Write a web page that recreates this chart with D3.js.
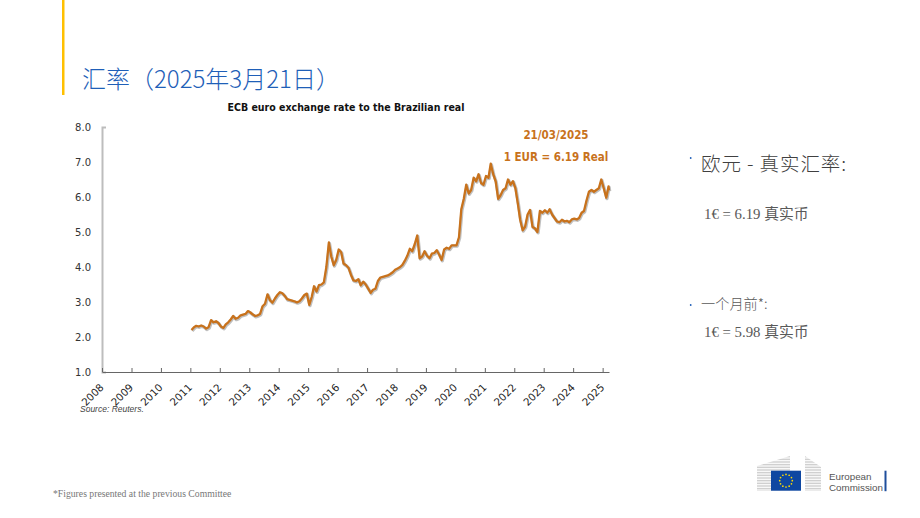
<!DOCTYPE html>
<html>
<head>
<meta charset="utf-8">
<script src="https://d3js.org/d3.v7.min.js"></script>
<style>
  html, body { margin: 0; padding: 0; background: #fff; }
  svg { display: block; }
</style>
</head>
<body>
<script>
'use strict';

// axis ticks
const yearTicks = [2008, 2009, 2010, 2011, 2012, 2013, 2014, 2015, 2016,
                   2017, 2018, 2019, 2020, 2021, 2022, 2023, 2024, 2025];
const rateTicks = [1, 2, 3, 4, 5, 6, 7, 8];

// EUR/BRL, one value per month, Jan..Dec
const rateYears = [2011, 2012, 2013, 2014, 2015, 2016, 2017, 2018,
                   2019, 2020, 2021, 2022, 2023, 2024, 2025];
const rate2011 = [2.20, 2.28, 2.32, 2.30, 2.33, 2.30, 2.24, 2.28, 2.48, 2.42, 2.45, 2.40];
const rate2012 = [2.30, 2.26, 2.36, 2.42, 2.50, 2.60, 2.52, 2.55, 2.62, 2.64, 2.66, 2.74];
const rate2013 = [2.70, 2.64, 2.60, 2.62, 2.66, 2.88, 2.95, 3.22, 3.05, 2.98, 3.10, 3.20];
const rate2014 = [3.28, 3.25, 3.18, 3.08, 3.06, 3.04, 3.02, 2.99, 3.02, 3.10, 3.20, 3.24];
const rate2015 = [2.92, 3.15, 3.45, 3.30, 3.48, 3.50, 3.56, 4.00, 4.70, 4.30, 4.05, 4.20];
const rate2016 = [4.50, 4.42, 4.10, 4.05, 3.98, 3.78, 3.62, 3.60, 3.65, 3.48, 3.58, 3.50];
const rate2017 = [3.38, 3.26, 3.35, 3.38, 3.60, 3.70, 3.72, 3.74, 3.76, 3.80, 3.85, 3.92];
const rate2018 = [3.96, 4.00, 4.06, 4.18, 4.32, 4.52, 4.45, 4.65, 4.90, 4.25, 4.30, 4.45];
const rate2019 = [4.32, 4.25, 4.38, 4.40, 4.48, 4.35, 4.20, 4.50, 4.55, 4.52, 4.62, 4.62];
const rate2020 = [4.62, 4.85, 5.65, 5.95, 6.35, 6.10, 6.20, 6.55, 6.45, 6.65, 6.40, 6.35];
const rate2021 = [6.60, 6.55, 6.95, 6.65, 6.45, 5.95, 6.05, 6.20, 6.25, 6.50, 6.35, 6.45];
const rate2022 = [6.25, 5.80, 5.35, 5.05, 5.15, 5.50, 5.63, 5.15, 5.10, 5.00, 5.60, 5.55];
const rate2023 = [5.62, 5.55, 5.65, 5.50, 5.40, 5.30, 5.28, 5.35, 5.30, 5.32, 5.28, 5.36];
const rate2024 = [5.38, 5.36, 5.40, 5.55, 5.60, 5.90, 6.15, 6.20, 6.15, 6.20, 6.25, 6.50];
const rate2025 = [6.25, 5.98, 6.30];
const lastDay = '2025-03-21';
const lastRate = 6.19;

(function() {

  let svg = ''; // keep SVG reference in closure scope
  const orange = '#c8721c';

  window.onload = function() {
    svg = d3.select('body')
      .append('svg')
      .attr('width', 920)
      .attr('height', 518);

    drawFrame();
    let maps = drawAxes();
    plotData(maps);
    makeLabels();
    drawLogo();
  }

  // build the date / value rows from the yearly arrays
  function buildSeries() {
    let byYear = [rate2011, rate2012, rate2013, rate2014, rate2015, rate2016, rate2017,
                  rate2018, rate2019, rate2020, rate2021, rate2022, rate2023, rate2024, rate2025];
    let rows = [];
    byYear.forEach(function(vals, i) {
      vals.forEach(function(v, m) {
        rows.push({ date: new Date(rateYears[i], m, 15), rate: v });
      });
    });
    rows.push({ date: d3.timeParse('%Y-%m-%d')(lastDay), rate: lastRate });
    return rows;
  }

  // yellow bar + slide title
  function drawFrame() {
    svg.append('rect')
      .attr('x', 62).attr('y', 0)
      .attr('width', 2.5).attr('height', 95)
      .attr('fill', '#ffc000');

    svg.append('text')
      .attr('x', 82)
      .attr('y', 88)
      .style('font-family', '"Noto Sans CJK SC", sans-serif')
      .style('font-weight', 300)
      .style('font-size', '24px')
      .attr('fill', '#1f5fb8')
      .text('汇率（2025年3月21日）');
  }

  // draw the axes and ticks
  function drawAxes() {
    let xScale = d3.scaleTime()
      .domain([new Date(2008, 0, 1), d3.timeParse('%Y-%m-%d')(lastDay)])
      .range([102, 609]);
    let yScale = d3.scaleLinear()
      .domain([1, 8])
      .range([372, 127]);

    let yAxis = d3.axisLeft(yScale)
      .tickValues(rateTicks)
      .tickFormat(d3.format('.1f'))
      .tickSizeInner(0)
      .tickSizeOuter(-4)
      .tickPadding(11);
    let gy = svg.append('g')
      .attr('transform', 'translate(102, 0)')
      .call(yAxis);
    gy.select('.domain').attr('stroke', '#bdbdbd').attr('stroke-width', 2);
    gy.selectAll('text')
      .attr('fill', '#333')
      .style('font-family', '"DejaVu Sans", sans-serif')
      .style('font-size', '10px');

    let xAxis = d3.axisBottom(xScale)
      .tickValues(yearTicks.map(y => new Date(y, 0, 1)))
      .tickFormat(d3.timeFormat('%Y'))
      .tickSizeInner(-4)
      .tickSizeOuter(0);
    let gx = svg.append('g')
      .attr('transform', 'translate(0, 372)')
      .call(xAxis);
    gx.select('.domain').attr('stroke', '#666');
    gx.selectAll('.tick line').attr('stroke', '#666');
    gx.selectAll('text')
      .attr('x', 0).attr('y', 0).attr('dy', 0)
      .attr('text-anchor', 'end')
      .attr('transform', 'translate(2, 16) rotate(-45)')
      .attr('fill', '#222')
      .style('font-family', '"DejaVu Sans", sans-serif')
      .style('font-size', '10.3px');

    return { xScale: xScale, yScale: yScale };
  }

  // exchange rate line with a soft grey edge
  function plotData(map) {
    let rows = buildSeries();
    let line = d3.line()
      .x(d => map.xScale(d.date))
      .y(d => map.yScale(d.rate));

    svg.append('path')
      .datum(rows)
      .attr('d', line)
      .attr('transform', 'translate(0.7, 0.9)')
      .attr('fill', 'none')
      .attr('stroke', '#8a8a8a')
      .attr('stroke-opacity', 0.55)
      .attr('stroke-width', 3.2)
      .attr('stroke-linejoin', 'round');

    svg.append('path')
      .datum(rows)
      .attr('d', line)
      .attr('fill', 'none')
      .attr('stroke', orange)
      .attr('stroke-width', 2.3)
      .attr('stroke-linejoin', 'round');
  }

  // chart title, annotation, source, side text, footnote
  function makeLabels() {
    svg.append('text')
      .attr('x', 346)
      .attr('y', 111)
      .attr('text-anchor', 'middle')
      .style('font-family', '"DejaVu Sans Condensed", "DejaVu Sans", sans-serif')
      .style('font-weight', 'bold')
      .style('font-size', '10.5px')
      .attr('fill', '#111')
      .text('ECB euro exchange rate to the Brazilian real');

    svg.append('text')
      .attr('x', 556)
      .attr('y', 139)
      .attr('text-anchor', 'middle')
      .style('font-family', '"DejaVu Sans Condensed", "DejaVu Sans", sans-serif')
      .style('font-weight', 'bold')
      .style('font-size', '11.5px')
      .attr('fill', orange)
      .text('21/03/2025');

    svg.append('text')
      .attr('x', 556)
      .attr('y', 160.5)
      .attr('text-anchor', 'middle')
      .style('font-family', '"DejaVu Sans Condensed", "DejaVu Sans", sans-serif')
      .style('font-weight', 'bold')
      .style('font-size', '11.5px')
      .attr('fill', orange)
      .text('1 EUR = 6.19 Real');

    svg.append('text')
      .attr('x', 80)
      .attr('y', 412)
      .style('font-family', '"Liberation Sans", sans-serif')
      .style('font-style', 'italic')
      .style('font-size', '8.5px')
      .attr('fill', '#444')
      .text('Source: Reuters.');

    // right hand notes
    let serifCjk = '"Liberation Serif", "Noto Sans CJK SC", serif';
    [158, 305].forEach(function(y) {
      svg.append('circle')
        .attr('cx', 690.7).attr('cy', y)
        .attr('r', 0.9)
        .attr('fill', '#1f5fb8');
    });

    svg.append('text')
      .attr('x', 701).attr('y', 171)
      .style('font-family', '"Noto Sans CJK SC", sans-serif')
      .style('font-weight', 300)
      .style('font-size', '19.5px')
      .style('letter-spacing', '0.9px')
      .attr('fill', '#404040')
      .text('欧元 - 真实汇率:');

    svg.append('text')
      .attr('x', 704).attr('y', 219)
      .style('font-family', serifCjk)
      .style('font-size', '14.8px')
      .attr('fill', '#595959')
      .text('1€ = 6.19 真实币');

    svg.append('text')
      .attr('x', 701).attr('y', 309)
      .style('font-family', '"Noto Sans CJK SC", sans-serif')
      .style('font-weight', 300)
      .style('font-size', '14.2px')
      .attr('fill', '#595959')
      .text('一个月前*:');

    svg.append('text')
      .attr('x', 704).attr('y', 337)
      .style('font-family', serifCjk)
      .style('font-size', '14.8px')
      .attr('fill', '#595959')
      .text('1€ = 5.98 真实币');

    svg.append('text')
      .attr('x', 53).attr('y', 497)
      .style('font-family', '"Liberation Serif", serif')
      .style('font-size', '9.7px')
      .attr('fill', '#777')
      .text('*Figures presented at the previous Committee');
  }

  // European Commission logo, bottom right
  function drawLogo() {
    let defs = svg.append('defs');
    let pat = defs.append('pattern')
      .attr('id', 'stripes')
      .attr('patternUnits', 'userSpaceOnUse')
      .attr('width', 4).attr('height', 1.6);
    pat.append('rect').attr('width', 4).attr('height', 0.8).attr('fill', '#c9c9c9');

    svg.append('polygon')
      .attr('points', '757,466 790,456 790,491 757,491')
      .attr('fill', 'url(#stripes)');
    svg.append('polygon')
      .attr('points', '805,456 821,467 821,491 805,491')
      .attr('fill', 'url(#stripes)');

    svg.append('rect')
      .attr('x', 771).attr('y', 470.7)
      .attr('width', 30).attr('height', 20)
      .attr('fill', '#0e47a1');

    let stars = d3.range(12);
    svg.selectAll('.star')
      .data(stars)
      .enter()
      .append('circle')
      .attr('class', 'star')
      .attr('cx', d => 786 + 6.3 * Math.cos(d * Math.PI / 6))
      .attr('cy', d => 480.7 + 6.3 * Math.sin(d * Math.PI / 6))
      .attr('r', 0.85)
      .attr('fill', '#ffdd00');

    svg.append('text')
      .attr('x', 829).attr('y', 479.5)
      .style('font-family', '"Liberation Sans", sans-serif')
      .style('font-size', '9.8px')
      .attr('fill', '#555')
      .text('European');
    svg.append('text')
      .attr('x', 829).attr('y', 490.5)
      .style('font-family', '"Liberation Sans", sans-serif')
      .style('font-size', '9.8px')
      .attr('fill', '#555')
      .text('Commission');

    svg.append('rect')
      .attr('x', 884.5).attr('y', 470.7)
      .attr('width', 2).attr('height', 20.5)
      .attr('fill', '#1f4e9c');
  }

})();
</script>
</body>
</html>
